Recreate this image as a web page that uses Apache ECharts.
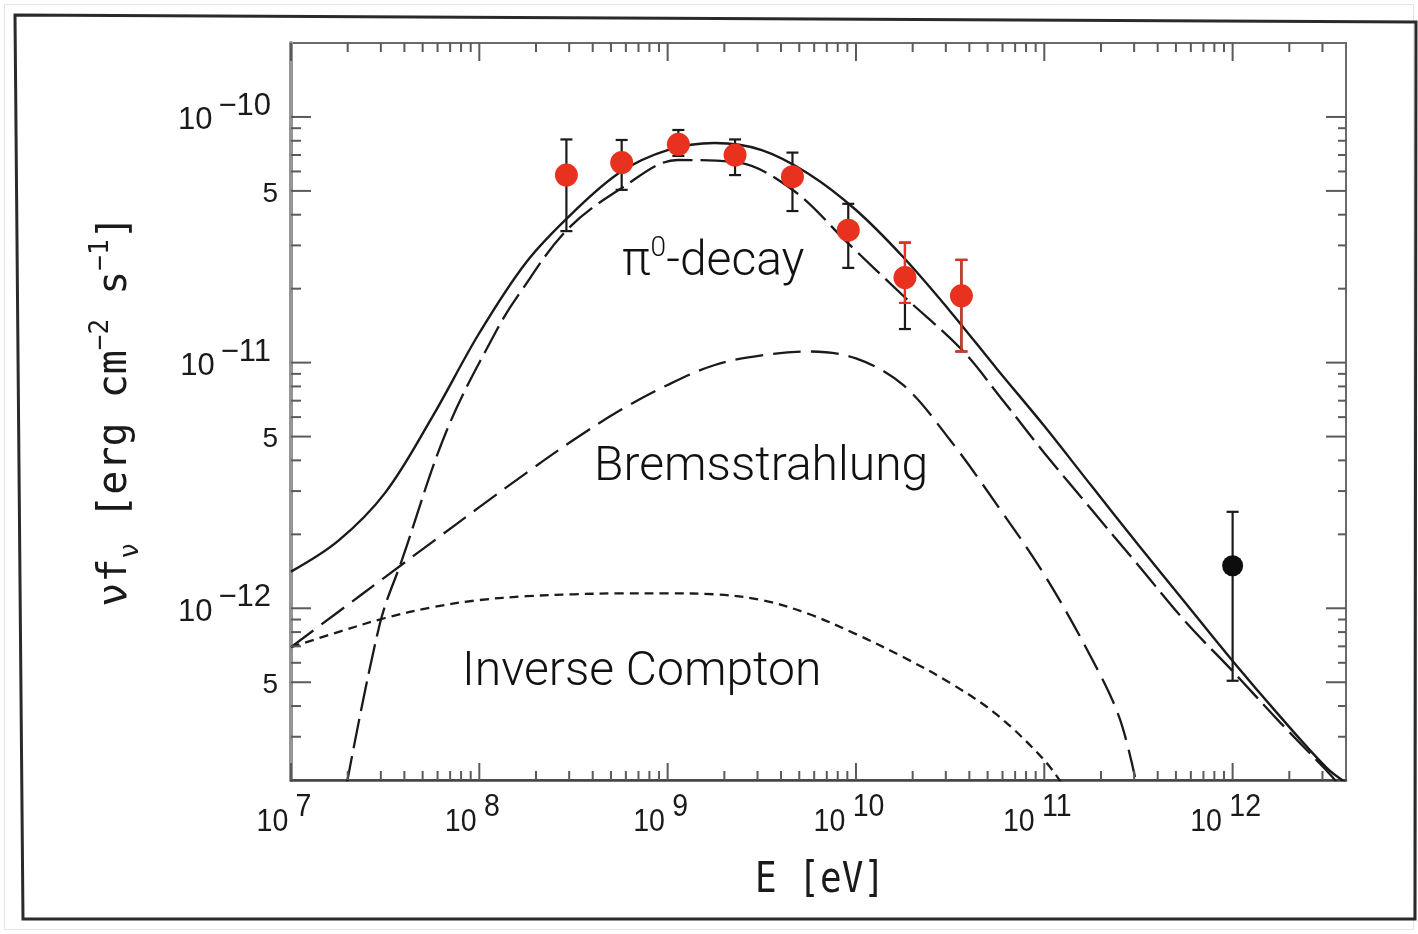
<!DOCTYPE html>
<html>
<head>
<meta charset="utf-8">
<script src="https://cdn.jsdelivr.net/npm/echarts@6/dist/echarts.min.js"></script>
<style>
  html, body { margin: 0; padding: 0; background: #ffffff; }
  #chart { width: 1418px; height: 934px; }
</style>
</head>
<body>
<div id="chart"></div>
<script>
// Gamma-ray spectrum: energy E [eV], flux nu*f_nu [erg cm^-2 s^-1]

// Total model (solid)
const totalEnergy = [1e7, 1.78e7, 3.16e7, 5.62e7, 1e8, 1.78e8, 3.16e8, 5.62e8, 1e9, 1.78e9, 3.16e9, 5.62e9,
                     1e10, 1.78e10, 3.16e10, 5.62e10, 1e11, 1.78e11, 3.16e11, 5.62e11, 1e12, 1.78e12, 3.16e12, 4e12];
const totalFlux = [1.41e-12, 1.88e-12, 2.95e-12, 6.0e-12, 1.32e-11, 2.57e-11, 4.10e-11, 5.97e-11, 7.33e-11, 7.83e-11, 7.33e-11, 5.86e-11,
                   4.18e-11, 2.69e-11, 1.62e-11, 9.4e-12, 5.52e-12, 3.15e-12, 1.81e-12, 1.05e-12, 6.1e-13, 3.64e-13, 2.24e-13, 1.95e-13];

// pi0-decay component (long dashes)
const pionEnergy = [1.97e7, 2.97e7, 3.88e7, 6.73e7, 1.24e8, 1.64e8, 2.92e8, 5.71e8, 1.13e9, 2.27e9, 4.62e9, 9.04e9,
                    1.81e10, 3.64e10, 6.0e10, 1.0e11, 1.79e11, 3.17e11, 5.64e11, 1e12, 1.78e12, 3.16e12, 3.7e12];
const pionFlux = [1.9e-13, 8.71e-13, 1.57e-12, 5.32e-12, 1.36e-11, 1.92e-11, 3.47e-11, 5.14e-11, 6.68e-11, 6.56e-11, 5.04e-11, 3.07e-11,
                  1.85e-11, 1.13e-11, 7.05e-12, 4.29e-12, 2.51e-12, 1.49e-12, 8.79e-13, 5.55e-13, 3.44e-13, 2.18e-13, 1.9e-13];

// Bremsstrahlung component (dashes)
const bremsEnergy = [1e7, 1.78e7, 3.16e7, 5.62e7, 1e8, 1.78e8, 3.16e8, 5.62e8, 1e9, 1.78e9, 3.16e9, 5.62e9,
                     1e10, 1.78e10, 3.16e10, 5.62e10, 1e11, 1.78e11, 2.51e11, 3.1e11];
const bremsFlux = [6.95e-13, 9.66e-13, 1.34e-12, 1.86e-12, 2.58e-12, 3.56e-12, 4.84e-12, 6.41e-12, 8.11e-12, 9.78e-12, 1.07e-11, 1.11e-11,
                   1.04e-11, 8.11e-12, 4.84e-12, 2.63e-12, 1.37e-12, 6.28e-13, 3.57e-13, 1.9e-13];

// Inverse Compton component (short dashes)
const icEnergy = [1e7, 1.78e7, 3.16e7, 5.62e7, 1e8, 1.78e8, 3.16e8, 5.62e8, 1e9, 1.78e9, 3.16e9, 5.62e9,
                  1e10, 1.78e10, 3.16e10, 5.62e10, 1e11, 1.26e11];
const icFlux = [6.95e-13, 8.0e-13, 9.13e-13, 1.01e-12, 1.08e-12, 1.12e-12, 1.14e-12, 1.15e-12, 1.15e-12, 1.14e-12, 1.08e-12, 9.48e-13,
                7.85e-13, 6.33e-13, 4.97e-13, 3.68e-13, 2.41e-13, 1.9e-13];

// GeV measurements (red)
const gevEnergy = [2.9e8, 5.7e8, 1.14e9, 2.28e9, 4.6e9, 9.1e9, 1.82e10, 3.63e10];
const gevFlux   = [5.8e-11, 6.52e-11, 7.74e-11, 7.0e-11, 5.71e-11, 3.46e-11, 2.22e-11, 1.87e-11];
const gevHigh   = [8.1e-11, 8.06e-11, 8.85e-11, 8.1e-11, 7.16e-11, 4.43e-11, 3.08e-11, 2.62e-11];
const gevLow    = [3.43e-11, 5.05e-11, 6.94e-11, 5.8e-11, 4.14e-11, 2.43e-11, 1.37e-11, 1.11e-11];
// portions of the GeV bars drawn in red
const gevRedHigh = [null, null, null, null, null, null, 3.08e-11, 2.62e-11];
const gevRedLow  = [null, null, null, null, null, null, 1.75e-11, 1.11e-11];

// TeV measurement (black)
const tevEnergy = [1e12];
const tevFlux   = [1.49e-12];
const tevHigh   = [2.47e-12];
const tevLow    = [5.07e-13];

// axes
const X_MIN = 1e7, X_MAX = 4e12;
const Y_MIN = 2e-13, Y_MAX = 2e-10;
const xDecades = [7, 8, 9, 10, 11, 12];
const yDecades = [-10, -11, -12];
const yFives = [5e-11, 5e-12, 5e-13];

const INK = '#1a1a1a';
const RED = '#e8321f';
const AXIS = '#5a5a5a';
const DIGITS = 'Liberation Sans, Arial, sans-serif';
const MONO = 'DejaVu Sans Mono, monospace';
const LIGHT = 'Roboto, Liberation Sans, sans-serif';

function pairs(xs, ys) { return xs.map((x, i) => [x, ys[i]]); }

// tick lists: decades (and 5s on the flux axis) are long, the rest short
const xTicks = [], xTickMajor = [];
for (const d of xDecades) {
  for (let k = 1; k <= 9; k++) {
    const v = k * Math.pow(10, d);
    if (v >= X_MIN && v < X_MAX) { xTicks.push([v, Y_MIN]); xTickMajor.push(k === 1); }
  }
}
const yTicks = [], yTickMajor = [];
for (const d of [-13, -12, -11, -10]) {
  for (let k = 1; k <= 9; k++) {
    const v = k * Math.pow(10, d);
    if (v > Y_MIN && v < Y_MAX) { yTicks.push([X_MIN, v]); yTickMajor.push(k === 1 || k === 5); }
  }
}

function seg(x1, y1, x2, y2, color, w) {
  return { type: 'line', shape: { x1, y1, x2, y2 }, style: { stroke: color, lineWidth: w } };
}

function errorBarSeries(name, xs, lo, hi, color, z) {
  const data = [];
  xs.forEach((x, i) => { if (lo[i] != null && hi[i] != null) data.push([x, lo[i], hi[i]]); });
  return {
    name, type: 'custom', coordinateSystem: 'cartesian2d', z, silent: true, clip: false,
    encode: { x: 0, y: [1, 2] },
    data,
    renderItem(params, api) {
      const a = api.coord([api.value(0), api.value(1)]);
      const b = api.coord([api.value(0), api.value(2)]);
      const cap = 6;
      return { type: 'group', children: [
        seg(a[0], a[1], b[0], b[1], color, 2.2),
        seg(a[0] - cap, a[1], a[0] + cap, a[1], color, 2.2),
        seg(b[0] - cap, b[1], b[0] + cap, b[1], color, 2.2)
      ] };
    }
  };
}

const chart = echarts.init(document.getElementById('chart'));

const option = {
  backgroundColor: '#ffffff',
  animation: false,
  grid: { left: 291, top: 43, width: 1055, height: 737, show: true, borderColor: '#6a6a6a', borderWidth: 2, backgroundColor: 'transparent' },
  xAxis: {
    type: 'log', logBase: 10, min: X_MIN, max: X_MAX,
    axisLine: { show: true, lineStyle: { color: '#444', width: 2.5 } },
    axisTick: { show: false }, axisLabel: { show: false }, splitLine: { show: false }
  },
  yAxis: {
    type: 'log', logBase: 10, min: Y_MIN, max: Y_MAX,
    axisLine: { show: true, lineStyle: { color: '#959595', width: 4 } },
    axisTick: { show: false }, axisLabel: { show: false }, splitLine: { show: false }
  },
  series: [
    {
      name: 'Inverse Compton', type: 'line', data: pairs(icEnergy, icFlux), showSymbol: false, smooth: 0.35, z: 3,
      lineStyle: { color: INK, width: 2.3, type: [9, 6] }
    },
    {
      name: 'Bremsstrahlung', type: 'line', data: pairs(bremsEnergy, bremsFlux), showSymbol: false, smooth: 0.35, z: 3,
      lineStyle: { color: INK, width: 2.3, type: [28, 10] }
    },
    {
      name: 'π0-decay', type: 'line', data: pairs(pionEnergy, pionFlux), showSymbol: false, smooth: 0.35, z: 3,
      lineStyle: { color: INK, width: 2.3, type: [30, 8] }
    },
    {
      name: 'Total', type: 'line', data: pairs(totalEnergy, totalFlux), showSymbol: false, smooth: 0.35, z: 3,
      lineStyle: { color: INK, width: 2.4, type: 'solid' }
    },
    errorBarSeries('GeV bars', gevEnergy, gevLow, gevHigh, INK, 4),
    errorBarSeries('GeV bars red', gevEnergy, gevRedLow, gevRedHigh, RED, 5),
    errorBarSeries('TeV bar', tevEnergy, tevLow, tevHigh, INK, 4),
    {
      name: 'GeV', type: 'scatter', data: pairs(gevEnergy, gevFlux), symbol: 'circle', symbolSize: 23, z: 6,
      itemStyle: { color: RED, opacity: 1 }
    },
    {
      name: 'TeV', type: 'scatter', data: pairs(tevEnergy, tevFlux), symbol: 'circle', symbolSize: 21, z: 6,
      itemStyle: { color: '#0d0d0d', opacity: 1 }
    },
    {
      name: 'x ticks', type: 'custom', coordinateSystem: 'cartesian2d', z: 7, silent: true, clip: false,
      data: xTicks,
      renderItem(params, api) {
        const cs = params.coordSys;
        const px = api.coord([api.value(0), Y_MIN])[0];
        const major = xTickMajor[params.dataIndex];
        const bottom = cs.y + cs.height;
        return { type: 'group', children: [
          seg(px, bottom, px, bottom - (major ? 17 : 9), AXIS, 2),
          seg(px, cs.y, px, cs.y + (major ? 18 : 9), AXIS, 2)
        ] };
      }
    },
    {
      name: 'y ticks', type: 'custom', coordinateSystem: 'cartesian2d', z: 7, silent: true, clip: false,
      data: yTicks,
      renderItem(params, api) {
        const cs = params.coordSys;
        const py = api.coord([X_MIN, api.value(1)])[1];
        const major = yTickMajor[params.dataIndex];
        const right = cs.x + cs.width;
        return { type: 'group', children: [
          seg(cs.x, py, cs.x + (major ? 20 : 10), py, AXIS, 2),
          seg(right, py, right - (major ? 20 : 8), py, AXIS, 2)
        ] };
      }
    },
    {
      name: 'x labels', type: 'custom', coordinateSystem: 'cartesian2d', z: 7, silent: true, clip: false,
      data: xDecades.map(d => [Math.pow(10, d), Y_MIN]),
      renderItem(params, api) {
        const cs = params.coordSys;
        const px = api.coord([api.value(0), Y_MIN])[0];
        const d = xDecades[params.dataIndex];
        return {
          type: 'text', x: px - 7, y: cs.y + cs.height + 42, scaleX: 0.92,
          style: {
            text: '10{e|' + d + '}', fill: INK, fontFamily: DIGITS, fontSize: 31, lineHeight: 60,
            textAlign: 'center', textVerticalAlign: 'middle',
            rich: { e: { fontFamily: DIGITS, fontSize: 31, lineHeight: 30, verticalAlign: 'top', padding: [0, 0, 0, 8], fill: INK } }
          }
        };
      }
    },
    {
      name: 'y labels', type: 'custom', coordinateSystem: 'cartesian2d', z: 7, silent: true, clip: false,
      data: yDecades.map(d => [X_MIN, Math.pow(10, d)]).concat(yFives.map(v => [X_MIN, v])),
      renderItem(params, api) {
        const py = api.coord([X_MIN, api.value(1)])[1];
        const i = params.dataIndex;
        if (i < yDecades.length) {
          const d = yDecades[i];
          return {
            type: 'text', x: 271, y: py + 4,
            style: {
              text: '10{e|−' + Math.abs(d) + '}', fill: INK, fontFamily: DIGITS, fontSize: 31, lineHeight: 60,
              textAlign: 'right', textVerticalAlign: 'middle',
              rich: { e: { fontFamily: DIGITS, fontSize: 31, lineHeight: 30, verticalAlign: 'top', padding: [0, 0, 0, 6], fill: INK } }
            }
          };
        }
        return {
          type: 'text', x: 278, y: py + 3,
          style: { text: '5', fill: INK, fontFamily: DIGITS, fontSize: 28, textAlign: 'right', textVerticalAlign: 'middle' }
        };
      }
    }
  ],
  graphic: [
    { type: 'rect', silent: true, z: 0, shape: { x: 4.5, y: 4.5, width: 1409, height: 925 }, style: { fill: 'none', stroke: '#e4e4e4', lineWidth: 1 } },
    { type: 'polygon', silent: true, z: 10, shape: { points: [[15, 15], [1416, 22], [1415, 919], [23, 919]] }, style: { fill: 'none', stroke: '#2a2a2a', lineWidth: 3 } },
    {
      type: 'text', silent: true, z: 10, x: 820, y: 881, scaleY: 1.2,
      style: { text: 'E [eV]', fill: INK, fontFamily: MONO, fontSize: 36, textAlign: 'center', textVerticalAlign: 'middle' }
    },
    {
      type: 'text', silent: true, z: 10, x: 116, y: 411, rotation: Math.PI / 2,
      style: {
        text: 'νf{sub|ν} [erg cm{sup|−2} s{sup|−1}]', fill: INK, fontFamily: MONO, fontSize: 40, lineHeight: 56,
        textAlign: 'center', textVerticalAlign: 'middle',
        rich: {
          sub: { fontFamily: MONO, fontSize: 26, lineHeight: 30, verticalAlign: 'bottom', fill: INK },
          sup: { fontFamily: MONO, fontSize: 26, lineHeight: 30, verticalAlign: 'top', fill: INK }
        }
      }
    },
    {
      type: 'text', silent: true, z: 10, x: 622, y: 263,
      style: {
        text: 'π{s|0}-decay', fill: '#111', fontFamily: LIGHT, fontWeight: 300, fontSize: 48, lineHeight: 56,
        textAlign: 'left', textVerticalAlign: 'middle',
        rich: { s: { fontFamily: LIGHT, fontWeight: 300, fontSize: 28, lineHeight: 28, verticalAlign: 'top', fill: '#111' } }
      }
    },
    {
      type: 'text', silent: true, z: 10, x: 594, y: 468,
      style: { text: 'Bremsstrahlung', fill: '#111', fontFamily: LIGHT, fontWeight: 300, fontSize: 48, textAlign: 'left', textVerticalAlign: 'middle' }
    },
    {
      type: 'text', silent: true, z: 10, x: 462, y: 673,
      style: { text: 'Inverse Compton', fill: '#111', fontFamily: LIGHT, fontWeight: 300, fontSize: 48, textAlign: 'left', textVerticalAlign: 'middle' }
    }
  ]
};

chart.setOption(option);
</script>
</body>
</html>
